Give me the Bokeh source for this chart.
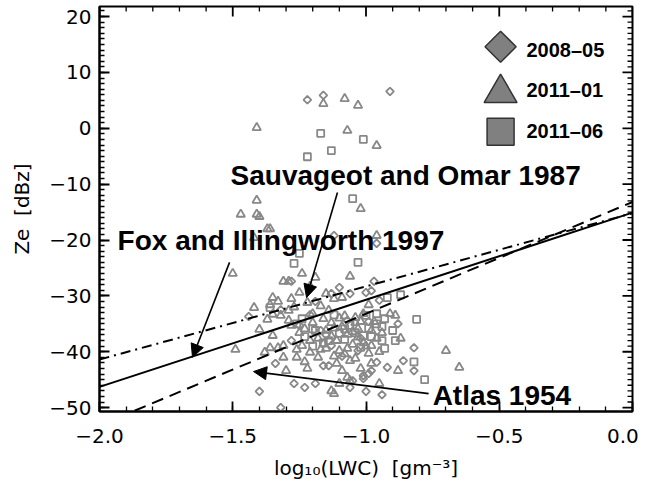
from bokeh.plotting import figure
from bokeh.models import (Range1d, LinearAxis, SingleIntervalTicker,
                          CustomJSTickFormatter, Arrow, NormalHead)
from bokeh.core.properties import value
from bokeh.embed import file_html
from bokeh.resources import INLINE
import math

# ---------------- data ----------------
# 2008-05 (diamonds)
d08_x = [-1.22, -1.16, -0.91, -1.12, -0.96, -1.28, -0.97, -1.10, -1.13, -1.06,
         -1.00, -0.98, -0.95, -1.32, -1.44, -0.82, -1.34, -1.16, -1.14, -1.01,
         -0.99, -0.96, -0.92, -0.86, -0.82, -1.27, -1.23, -1.19, -1.05, -1.06,
         -1.00, -0.94, -1.40, -1.32, -1.01, -0.98, -1.25, -1.17, -1.07, -1.02,
         -1.28, -1.13, -0.88, -1.19, -1.15, -1.09, -1.03, -0.99, -1.21]
d08_y = [5.1, 5.9, 6.6, -19.2, -20.6, -27.4, -27.4, -28.5, -29.6, -29.6,
         -29.4, -29.1, -30.8, -32.5, -33.7, -39.3, -42.1, -42.5, -42.5, -44.3,
         -43.9, -41.9, -42.8, -41.6, -43.4, -45.7, -46.4, -45.7, -45.2, -46.4,
         -47.1, -47.7, -47.1, -50.0, -44.8, -43.4, -35.3, -36.2, -34.4, -37.6,
         -38.0, -38.9, -35.0, -31.0, -37.0, -40.8, -39.8, -34.6, -33.4]

# 2011-01 (triangles)
t11_x = [-1.16, -1.08, -1.03, -1.41, -1.07, -0.96,
         -1.41, -1.02, -1.47, -1.41, -1.40, -1.37, -1.36, -1.42, -0.96,
         -1.50, -1.24, -1.19, -1.06, -1.31, -1.29, -1.21, -1.15, -1.12, -1.09,
         -1.25, -1.35, -1.36, -1.28, -1.42, -1.35, -1.32, -1.37, -1.29, -1.20,
         -1.04, -0.91, -0.89, -1.01, -1.40, -1.35, -1.49, -1.38, -1.36, -1.33,
         -1.31, -1.26, -1.23, -1.30, -1.21, -1.17, -1.15, -1.11, -1.06, -1.04,
         -1.09, -0.98, -0.88, -0.98, -0.87, -0.70, -0.65, -1.13, -1.12, -1.07,
         -1.06, -1.10, -0.95, -0.99,
         -1.28, -1.25, -1.23, -1.20, -1.18, -1.15, -1.13, -1.11, -1.09, -1.07,
         -1.05, -1.03, -1.01, -0.98, -0.96, -1.31, -1.24, -1.21, -1.10, -1.29,
         -1.16, -1.04,
         -1.33, -1.27, -1.22, -1.17, -1.14, -1.12, -1.08, -1.05, -1.02, -1.00,
         -0.97, -0.94, -1.16, -1.13, -1.10, -1.07, -1.03, -0.99, -1.26, -1.22,
         -1.18, -1.12, -1.08, -1.02, -0.95]
t11_y = [4.4, 5.3, 4.1, 0.1, -0.4, -3.1,
         -12.9, -14.4, -15.4, -15.4, -15.8, -18.0, -18.0, -19.6, -19.2,
         -26.0, -26.0, -26.7, -26.5, -27.4, -27.4, -28.3, -29.6, -30.5, -30.3,
         -29.4, -30.3, -31.6, -30.5, -32.1, -33.3, -33.5, -34.2, -32.6, -33.2,
         -33.9, -33.2, -33.5, -33.2, -36.0, -37.1, -39.6, -40.1, -39.3, -39.3,
         -41.0, -41.0, -41.8, -43.4, -40.1, -39.6, -39.4, -42.1, -41.6, -41.2,
         -43.4, -42.1, -43.4, -38.9, -37.6, -39.8, -42.8, -47.0, -47.5, -44.6,
         -45.2, -45.7, -45.7, -31.6,
         -35.3, -36.6, -35.9, -34.8, -37.6, -36.2, -34.8, -38.0, -35.5, -36.9,
         -38.7, -35.9, -38.4, -36.2, -37.6, -38.9, -38.9, -38.0, -39.8, -34.4,
         -34.1, -34.8,
         -31.0, -32.0, -31.2, -31.8, -32.6, -35.8, -33.6, -36.4, -34.6, -39.0,
         -34.6, -36.6, -38.6, -37.2, -34.0, -39.4, -37.4, -40.3, -39.6, -43.0,
         -41.0, -40.8, -40.4, -43.0, -40.0]

# 2011-06 (squares)
s11_x = [-1.17, -1.01, -1.13, -1.22, -1.05, -1.25, -1.27, -1.03, -1.36, -0.92,
         -0.87, -0.81, -1.24, -1.00, -0.96, -0.94, -0.93, -0.82, -0.78,
         -1.19, -1.10, -1.08, -1.01, -0.98, -0.90, -1.06, -1.14, -1.23, -0.94,
         -0.89, -0.93, -1.20, -1.16, -1.12, -1.04, -0.99, -1.08, -0.96, -1.02,
         -1.20, -1.26]
s11_y = [-0.9, -2.0, -4.0, -5.1, -12.6, -22.4, -24.2, -24.0, -32.1, -30.3,
         -29.8, -34.2, -34.1, -33.5, -33.2, -35.5, -39.4, -41.8, -45.0,
         -36.2, -36.7, -35.9, -37.1, -37.3, -36.2, -35.3, -38.0, -37.3, -38.0,
         -38.0, -34.1, -35.9, -38.4, -33.4, -36.6, -35.8, -37.8, -35.0, -39.2,
         -39.0, -35.0]

# Z-LWC relations (end points)
fox_x = [-2.0, 0.0]
fox_y = [-46.3, -15.1]
sauv_x = [-2.0, 0.0]
sauv_y = [-41.4, -15.2]
atlas_x = [-2.0, 0.0]
atlas_y = [-53.2, -13.2]

# annotations
ann_text = ["Sauvageot and Omar 1987", "Fox and Illingworth 1997", "Atlas 1954"]
ann_x = [-1.508, -1.932, -0.750]
ann_y = [-8.4, -20.0, -47.8]
arrow_x0 = [-1.107, -1.512, -0.765]
arrow_y0 = [-11.5, -24.0, -47.5]
arrow_x1 = [-1.223, -1.651, -1.422]
arrow_y1 = [-30.3, -41.0, -43.55]

# legend
leg_labels = ["2008\u201305", "2011\u201301", "2011\u201306"]
leg_key_x = [-0.495, -0.495, -0.495]
leg_key_y = [14.6, 6.3, -0.6]
leg_text_x = [-0.398, -0.398, -0.398]
leg_text_y = [14.1, 6.9, -0.4]

x_label = "log\u2081\u2080(LWC)\u00a0 [gm\u207b\u00b3]"
y_label = "Ze\u00a0 [dBz]"

GRAY = "#888888"
X0, X1, Y0, Y1 = -2.0, 0.0, -50.7, 21.8
FRAME_W, FRAME_H = 533, 405

# ---------------- figure ----------------
p = figure(width=651, height=483, x_range=Range1d(X0, X1),
           y_range=Range1d(Y0, Y1), output_backend="svg",
           toolbar_location=None, x_axis_type=None, y_axis_type=None,
           min_border_left=99, min_border_right=19, min_border_top=6,
           min_border_bottom=72)
p.outline_line_color = "black"
p.outline_line_width = 2

xfmt = CustomJSTickFormatter(code="""
if (Math.abs(tick) < 1e-9) { return '0.0' + '\\u00a0\\u00a0'; }
return tick.toFixed(1).replace('-', '\\u2212');
""")
yfmt = CustomJSTickFormatter(code="""
return Math.round(tick).toString().replace('-', '\\u2212');
""")


def style(ax):
    ax.axis_line_color = "black"
    ax.axis_line_width = 2
    ax.major_tick_in = 10
    ax.major_tick_out = 0
    ax.minor_tick_in = 5
    ax.minor_tick_out = 0
    ax.major_tick_line_color = "black"
    ax.minor_tick_line_color = "black"
    ax.major_tick_line_width = 1.8
    ax.minor_tick_line_width = 1.3
    ax.major_label_text_font = "DejaVu Sans"
    ax.major_label_text_font_size = "20px"
    ax.major_label_text_color = "black"
    ax.axis_label_text_font = "DejaVu Sans"
    ax.axis_label_text_font_size = "20px"
    ax.axis_label_text_font_style = "normal"
    ax.axis_label_text_color = "black"


xb = LinearAxis(ticker=SingleIntervalTicker(interval=0.5, num_minor_ticks=5),
                formatter=xfmt, axis_label=x_label)
style(xb)
xb.major_label_standoff = 12
xb.axis_label_standoff = 5
p.add_layout(xb, "below")

yl = LinearAxis(ticker=SingleIntervalTicker(interval=10, num_minor_ticks=10),
                formatter=yfmt, axis_label=y_label)
style(yl)
yl.major_label_standoff = 8
yl.axis_label_standoff = 12
p.add_layout(yl, "left")

# ---------------- inward tick marks on the top and right frame sides ----------------
dx_px = (X1 - X0) / FRAME_W
dy_px = (Y1 - Y0) / FRAME_H
x_major = [-2.0 + 0.5 * i for i in range(5)]
x_minor = [round(-2.0 + 0.1 * i, 2) for i in range(21) if i % 5 != 0]
y_major = [-50.0 + 10 * i for i in range(8)]
y_minor = [float(v) for v in range(-50, 22) if v % 10 != 0]

for vals, length, width in ((x_major, 10, 1.8), (x_minor, 5, 1.3)):
    ly = length * dy_px
    p.segment(x0=vals, y0=[Y1] * len(vals), x1=vals, y1=[Y1 - ly] * len(vals),
              line_color="black", line_width=width)
for vals, length, width in ((y_major, 10, 1.8), (y_minor, 5, 1.3)):
    lx = length * dx_px
    p.segment(x0=[X1] * len(vals), y0=vals, x1=[X1 - lx] * len(vals), y1=vals,
              line_color="black", line_width=width)

# ---------------- scatter ----------------
p.scatter(d08_x, d08_y, marker="square", angle=math.pi / 4, size=5.5,
          fill_color=None, line_color=GRAY, line_width=1.8)
p.scatter(t11_x, t11_y, marker="triangle", size=8.5,
          fill_color=None, line_color=GRAY, line_width=1.8)
p.scatter(s11_x, s11_y, marker="square", size=7,
          fill_color=None, line_color=GRAY, line_width=1.8)

# ---------------- relations ----------------
p.line(fox_x, fox_y, line_color="black", line_width=2)
p.line(sauv_x, sauv_y, line_color="black", line_width=2, line_dash="10 5 2 5")
p.line(atlas_x, atlas_y, line_color="black", line_width=2, line_dash="12 7")

# ---------------- annotations ----------------
p.text(x=ann_x, y=ann_y, text=ann_text, text_font=value("Liberation Sans"),
       text_font_style="bold", text_font_size="28px", text_color="black",
       text_align="left", text_baseline="alphabetic")
for i in range(3):
    p.add_layout(Arrow(end=NormalHead(size=13, fill_color="black",
                                      line_color="black", line_width=1),
                       x_start=arrow_x0[i], y_start=arrow_y0[i],
                       x_end=arrow_x1[i], y_end=arrow_y1[i],
                       line_color="black", line_width=1.6))

# ---------------- legend ----------------
p.scatter(leg_key_x[0:1], leg_key_y[0:1], marker="square", angle=math.pi / 4,
          size=22, fill_color="#808080", line_color="#333333", line_width=1.5)
p.scatter(leg_key_x[1:2], leg_key_y[1:2], marker="triangle", size=33,
          fill_color="#808080", line_color="#333333", line_width=1.5)
p.scatter(leg_key_x[2:3], leg_key_y[2:3], marker="square", size=27,
          fill_color="#808080", line_color="#333333", line_width=1.5)
p.text(x=leg_text_x, y=leg_text_y, text=leg_labels,
       text_font=value("Liberation Sans"), text_font_style="bold",
       text_font_size="20px", text_color="black", text_align="left",
       text_baseline="middle")

open("out.html", "w").write(file_html(p, INLINE))
